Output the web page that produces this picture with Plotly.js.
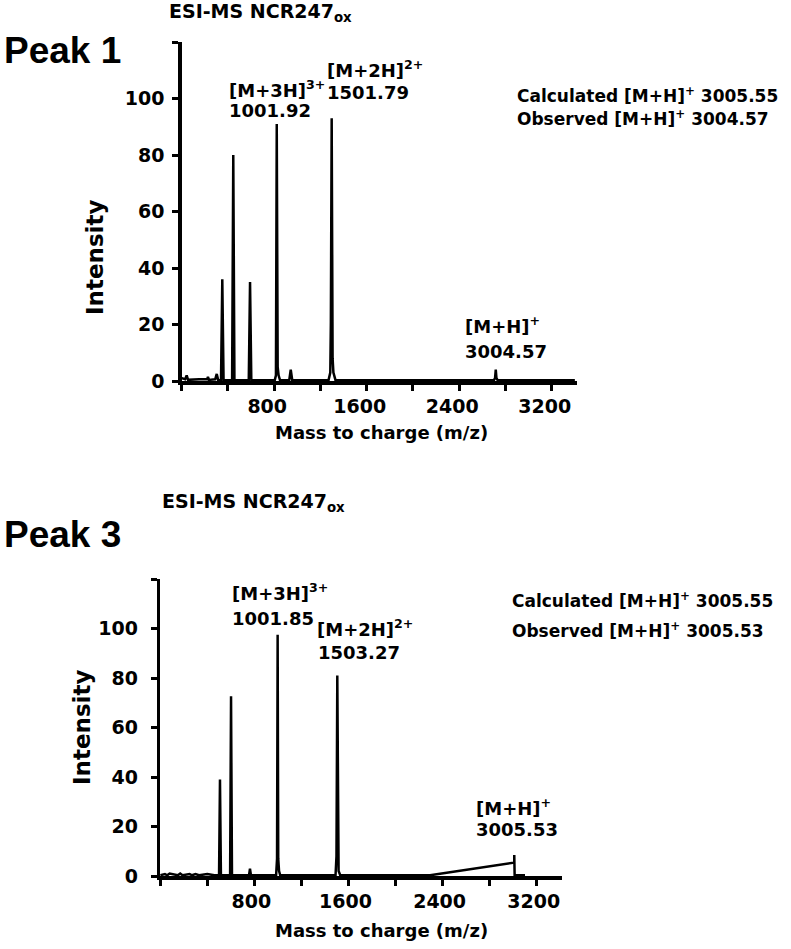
<!DOCTYPE html>
<html>
<head>
<meta charset="utf-8">
<script src="https://cdn.plot.ly/plotly-3.0.1.min.js"></script>
<style>
  body { margin: 0; background: #fff; }
  #plot { width: 791px; height: 949px; }
</style>
</head>
<body>
<div id="plot"></div>
<script>
// Peak 1 spectrum (m/z as drawn on the axis, relative intensity)
var peak1Mz = [0, 30, 43, 55, 150, 220, 227, 235, 290, 303, 315, 340, 351, 362, 436, 446, 456, 580, 591, 602,
               805, 815, 822, 826, 830, 838, 850, 930, 943, 956, 1060, 1270, 1285, 1290, 1297, 1301, 1305, 1312, 1330,
               2700, 2710, 2716, 2722, 2732, 3400];
var peak1Int = [1, 0.6, 2, 0.4, 0.6, 0.6, 1.5, 0.4, 0.6, 2.5, 0.4, 0.3, 36, 0.3, 0.3, 80, 0.3, 0.3, 35, 0.3,
                0.3, 2, 91, 9, 5, 2, 0.3, 0.3, 4, 0.3, 0.3, 0.3, 3, 21, 93, 21, 8, 3, 0.3,
                0.3, 1, 4, 1, 0.3, 0.3];

// Peak 3 spectrum
var peak3Mz = [0, 40, 60, 80, 150, 170, 190, 250, 270, 300, 330, 400, 460, 500, 508, 516, 594, 602, 610,
               755, 763, 771, 985, 993, 998, 1003, 1010, 1020, 1490, 1498, 1505, 1510, 1516, 1530,
               2293, 3006, 3009, 3009, 3012, 3100];
var peak3Int = [0.3, 0.8, 0.3, 1, 0.3, 1, 0.3, 0.8, 0.3, 0.8, 0.3, 0.8, 0.3, 0.3, 39, 0.3, 0.3, 72.6, 0.3,
                0.3, 3, 0.3, 0.3, 7, 97.5, 7, 2, 0.3, 0.3, 8, 81, 8, 2, 0.3,
                0.3, 5.4, 5.6, 8.5, 0.3, 0.3];

var xTickVals = [0, 400, 800, 1200, 1600, 2000, 2400, 2800, 3200];
var xTickText = ['', '', '800', '', '1600', '', '2400', '', '3200'];
var yTickVals = [0, 20, 40, 60, 80, 100, 120];
var yTickText = ['0', '20', '40', '60', '80', '100', ''];

var W = 791, H = 949;
var FONT = 'DejaVu Sans';

function lab(text, xLeft, baseline, size, family) {
    return {
        xref: 'paper', yref: 'paper',
        x: xLeft / W, y: 1 - (baseline + 0.25 * size + 1) / H,
        xanchor: 'left', yanchor: 'bottom',
        text: text, showarrow: false, align: 'left',
        font: { family: family || FONT, size: size, color: 'black', weight: 'bold' }
    };
}
function centered(text, xc, yc, size, angle) {
    return {
        xref: 'paper', yref: 'paper',
        x: xc / W, y: 1 - yc / H,
        xanchor: 'center', yanchor: 'middle',
        text: text, showarrow: false, textangle: angle || 0,
        font: { family: FONT, size: size, color: 'black', weight: 'bold' }
    };
}

function xAxis(domain, anchor, range, shift) {
    return {
        domain: domain, anchor: anchor, range: range,
        tickmode: 'array', tickvals: xTickVals, ticktext: xTickText,
        ticks: 'outside', ticklen: 6, tickwidth: 3, tickcolor: 'black',
        showline: true, linewidth: 3.5, linecolor: 'black',
        showgrid: false, zeroline: false, ticklabelshift: shift,
        tickfont: { family: FONT, size: 19, color: 'black', weight: 'bold' }
    };
}
function yAxis(domain, anchor, standoff) {
    return {
        domain: domain, anchor: anchor, range: [0, 120],
        tickmode: 'array', tickvals: yTickVals, ticktext: yTickText,
        ticks: 'outside', ticklen: 6, tickwidth: 3, tickcolor: 'black',
        showline: true, linewidth: 3.5, linecolor: 'black',
        showgrid: false, zeroline: false, ticklabelstandoff: standoff,
        tickfont: { family: FONT, size: 19, color: 'black', weight: 'bold' }
    };
}

var traces = [
    { x: peak1Mz, y: peak1Int, type: 'scatter', mode: 'lines', xaxis: 'x', yaxis: 'y',
      line: { color: 'black', width: 2.5 }, hoverinfo: 'skip' },
    { x: peak3Mz, y: peak3Int, type: 'scatter', mode: 'lines', xaxis: 'x2', yaxis: 'y2',
      line: { color: 'black', width: 2.5 }, hoverinfo: 'skip' }
];

var annotations = [
    lab('Peak 1', 2, 63, 37, 'Liberation Sans'),
    lab('ESI-MS NCR247<sub>ox</sub>', 167, 21, 19),
    lab('[M+3H]<sup>3+</sup>', 227, 97, 18),
    lab('1001.92', 227, 118, 18),
    lab('[M+2H]<sup>2+</sup>', 325, 77, 18),
    lab('1501.79', 325, 100, 18),
    lab('[M+H]<sup>+</sup>', 463, 333, 18),
    lab('3004.57', 463, 358, 18),
    lab('Calculated [M+H]<sup>+</sup> 3005.55', 515, 103, 17),
    lab('Observed [M+H]<sup>+</sup> 3004.57', 515, 126, 17),
    centered('Intensity', 94.5, 257.5, 23, -90),
    centered('Mass to charge (m/z)', 381, 432, 18),

    lab('Peak 3', 2, 547, 37, 'Liberation Sans'),
    lab('ESI-MS NCR247<sub>ox</sub>', 160, 511, 19),
    lab('[M+3H]<sup>3+</sup>', 230, 600, 18),
    lab('1001.85', 230, 625, 18),
    lab('[M+2H]<sup>2+</sup>', 315, 636, 18),
    lab('1503.27', 316, 659, 18),
    lab('[M+H]<sup>+</sup>', 474, 815, 18),
    lab('3005.53', 474, 836, 18),
    lab('Calculated [M+H]<sup>+</sup> 3005.55', 510, 608, 17),
    lab('Observed [M+H]<sup>+</sup> 3005.53', 510, 638, 17),
    centered('Intensity', 82, 728, 23, -90),
    centered('Mass to charge (m/z)', 381.5, 930, 18)
];

var layout = {
    width: W, height: H,
    margin: { l: 0, r: 0, t: 0, b: 0 },
    paper_bgcolor: 'white', plot_bgcolor: 'white',
    showlegend: false,
    font: { family: FONT, color: 'black', weight: 'bold' },
    xaxis: xAxis([181.7 / W, 576.7 / W], 'y', [0, 3416], -7),
    yaxis: yAxis([1 - 381 / H, 1 - 42 / H], 'x', 4),
    xaxis2: xAxis([160.2 / W, 561.7 / W], 'y2', [0, 3412], -3),
    yaxis2: yAxis([1 - 876 / H, 1 - 579 / H], 'x2', 9),
    annotations: annotations
};

Plotly.newPlot('plot', traces, layout, { staticPlot: true });
</script>
</body>
</html>
